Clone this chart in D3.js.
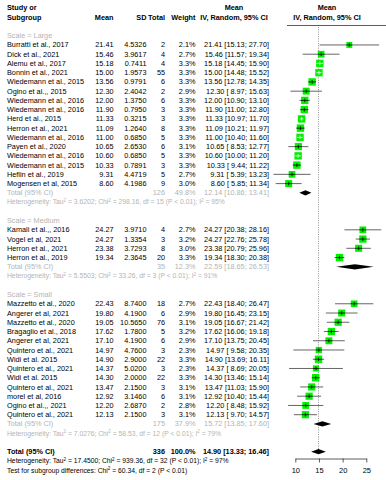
<!DOCTYPE html>
<html>
<head>
<meta charset="utf-8">
<script src="https://cdn.jsdelivr.net/npm/d3@7"></script>
<style>
  body { margin: 0; background: #fff; }
  svg { display: block; font-family: "Liberation Sans", Arial, sans-serif; }
</style>
</head>
<body>
<section></section>
<script>
// datos: [estudio, media, sd, total, peso %, IC inferior, IC superior]
var large = [
  ["Burratti et al., 2017", 21.41, 4.5326, 2, 2.1, 15.13, 27.70],
  ["Dick et al., 2021", 15.46, 3.9617, 4, 2.7, 11.57, 19.34],
  ["Alemu et al., 2017", 15.18, 0.7411, 4, 3.3, 14.45, 15.90],
  ["Bonnin et al., 2021", 15.00, 1.9573, 55, 3.3, 14.48, 15.52],
  ["Wiedemann et al., 2015", 13.56, 0.9791, 6, 3.3, 12.78, 14.35],
  ["Ogino et al.,, 2015", 12.30, 2.4042, 2, 2.9, 8.97, 15.63],
  ["Wiedemann et al., 2016", 12.00, 1.3750, 6, 3.3, 10.90, 13.10],
  ["Wiedemann et al., 2016", 11.90, 0.7950, 3, 3.3, 11.00, 12.80],
  ["Herd et al., 2015", 11.33, 0.3215, 3, 3.3, 10.97, 11.70],
  ["Herron et al., 2021", 11.09, 1.2640, 8, 3.3, 10.21, 11.97],
  ["Wiedemann et al., 2016", 11.00, 0.6850, 5, 3.3, 10.40, 11.60],
  ["Payen et al., 2020", 10.65, 2.6530, 6, 3.1, 8.53, 12.77],
  ["Wiedemann et al., 2016", 10.60, 0.6850, 5, 3.3, 10.00, 11.20],
  ["Wiedemann et al., 2015", 10.33, 0.7891, 3, 3.3, 9.44, 11.22],
  ["Heflin et al., 2019", 9.31, 4.4719, 5, 2.7, 5.39, 13.23],
  ["Mogensen et al, 2015", 8.60, 4.1986, 9, 3.0, 5.85, 11.34]
]
var medium = [
  ["Kamali et al.,, 2016", 24.27, 3.9710, 4, 2.7, 20.38, 28.16],
  ["Vogel et al, 2021", 24.27, 1.3354, 3, 3.2, 22.76, 25.78],
  ["Herron et al., 2021", 23.38, 3.7293, 8, 3.0, 20.79, 25.96],
  ["Herron et al., 2019", 19.34, 2.3645, 20, 3.3, 18.30, 20.38]
]
var small = [
  ["Mazzetto et al., 2020", 22.43, 8.7400, 18, 2.7, 18.40, 26.47],
  ["Angerer et al, 2021", 19.80, 4.1900, 6, 2.9, 16.45, 23.15],
  ["Mazzetto et al., 2020", 19.05, 10.5650, 76, 3.1, 16.67, 21.42],
  ["Bragaglio et al., 2018", 17.62, 1.7800, 5, 3.2, 16.06, 19.18],
  ["Angerer et al, 2021", 17.10, 4.1900, 6, 2.9, 13.75, 20.45],
  ["Quintero et al., 2021", 14.97, 4.7600, 3, 2.3, 9.58, 20.35],
  ["Widi et al. 2015", 14.90, 2.9000, 22, 3.3, 13.69, 16.11],
  ["Quintero et al., 2021", 14.37, 5.0200, 3, 2.3, 8.69, 20.05],
  ["Widi et al. 2015", 14.30, 2.0000, 22, 3.3, 13.46, 15.14],
  ["Quintero et al., 2021", 13.47, 2.1500, 3, 3.1, 11.03, 15.90],
  ["morel et al, 2016", 12.92, 3.1460, 6, 3.1, 10.40, 15.44],
  ["Ogino et al.,, 2021", 12.20, 2.6870, 2, 2.8, 8.48, 15.92],
  ["Quintero et al., 2021", 12.13, 2.1500, 3, 3.1, 9.70, 14.57]
]

// subgrupos: [etiqueta, total, peso, media, inf, sup]
var subgrupos = [
  ["Scale = Large", 126, 49.8, 12.14, 10.86, 13.41],
  ["Scale = Medium", 35, 12.3, 22.59, 18.65, 26.53],
  ["Scale = Small", 175, 37.9, 15.72, 13.85, 17.60]
]
// heterogeneidad: [tau2, chi2, df, I2]
var heterog = [
  ["3.6202", "298.16", 15, 95],
  ["5.5503", "33.26", 3, 91],
  ["7.0276", "58.53", 12, 79]
]
var global = [336, 100.0, 14.90, 13.33, 16.46]
var hetGlobal = ["17.4500", "939.36", 32, 97]
var testSub = ["60.34", 2]
var ticksX = [10, 15, 20, 25]

var width = 386
var height = 480

var svg = d3.select("section").append("svg")
  .attr("width", width)
  .attr("height", height)

var escalaX = d3.scaleLinear().domain([10, 25]).range([295.3, 366.3])
var escalaFila = d3.scaleLinear().domain([0, 41]).range([35.7, 414.7])

var fs = 7.3
var fsHet = 6.75
var gris = "#b4b4b4"
var verde = "#00f000"
var f2 = d3.format(".2f")

function ci(m, lo, hi) {
  var l = f2(lo), h = f2(hi)
  if (l.length < 5) l = "\u00a0" + l
  if (h.length < 5) h = "\u00a0" + h
  return f2(m) + " [" + l + "; " + h + "]"
}

function texto(x, y, t, anchor, color, weight, size) {
  return svg.append("text")
    .attr("x", x).attr("y", y).attr("dy", "0.35em")
    .attr("text-anchor", anchor || "start")
    .attr("fill", color || "#000")
    .attr("font-weight", weight || "normal")
    .attr("font-size", size || fs)
    .text(t)
}

// texto con superindices ("^2" marca el superindice)
function textoHet(x, y, partes, color) {
  var t = svg.append("text").attr("x", x).attr("y", y).attr("dy", "0.35em")
    .attr("fill", color).attr("font-size", fsHet)
  t.selectAll("tspan")
    .data(partes)
    .join("tspan")
    .attr("font-size", function (d) { return d === "^2" ? 4.6 : null })
    .attr("dy", function (d, i) {
      if (d === "^2") return -2.7
      if (i > 0 && partes[i - 1] === "^2") return 2.7
      return null
    })
    .text(function (d) { return d === "^2" ? "2" : d })
}

function hetPartes(h) {
  return ["Heterogeneity: Tau", "^2", " = " + h[0] + "; Chi", "^2",
    " = " + h[1] + ", df = " + h[2] + " (P < 0.01); I", "^2", " = " + h[3] + "%"]
}

var colX = {study: 7, mean: 113.5, sd: 146.5, total: 165, weight: 195.5, ci: 269}

// cabecera
texto(colX.study, 7.3, "Study or", "start", "#000", "bold")
texto(colX.study, 17.3, "Subgroup", "start", "#000", "bold")
texto(colX.mean, 17.3, "Mean", "end", "#000", "bold")
texto(colX.sd, 17.3, "SD", "end", "#000", "bold")
texto(colX.total, 17.3, "Total", "end", "#000", "bold")
texto(colX.weight, 17.3, "Weight", "end", "#000", "bold")
texto(234, 7.3, "Mean", "middle", "#000", "bold")
texto(234, 17.3, "IV, Random, 95% CI", "middle", "#000", "bold")
texto(327, 7.3, "Mean", "middle", "#000", "bold")
texto(327, 17.3, "IV, Random, 95% CI", "middle", "#000", "bold")

svg.append("line")
  .attr("x1", 287).attr("x2", 386).attr("y1", 25.5).attr("y2", 25.5)
  .attr("stroke", "#333").attr("stroke-width", 0.8)

// linea del efecto global
svg.append("line")
  .attr("x1", escalaX(global[2])).attr("x2", escalaX(global[2]))
  .attr("y1", 27).attr("y2", escalaFila(45) - 2)
  .attr("stroke", "#777").attr("stroke-width", 0.8)
  .attr("stroke-dasharray", "1,1.3")

function diamante(m, lo, hi, y) {
  svg.append("path")
    .attr("d", "M" + escalaX(lo) + "," + y + "L" + escalaX(m) + "," + (y - 2.6) +
      "L" + escalaX(hi) + "," + y + "L" + escalaX(m) + "," + (y + 2.6) + "Z")
    .attr("fill", "#000")
}

var grupos = [large, medium, small]
var fila = 0
grupos.forEach(function (g, gi) {
  var sg = subgrupos[gi]
  texto(colX.study, escalaFila(fila), sg[0], "start", gris)
  fila++
  g.forEach(function (d) {
    var y = escalaFila(fila)
    texto(colX.study, y, d[0])
    texto(colX.mean, y, f2(d[1]), "end")
    texto(colX.sd, y, d3.format(".4f")(d[2]), "end")
    texto(colX.total, y, d[3], "end")
    texto(colX.weight, y, d[4].toFixed(1) + "%", "end")
    texto(colX.ci, y, ci(d[1], d[5], d[6]), "end")

    var s = 7.4 * Math.sqrt(d[4] / 3.3)
    var xl = escalaX(d[5]), xh = escalaX(d[6]), xm = escalaX(d[1])
    svg.append("line").attr("x1", xl).attr("x2", xh).attr("y1", y).attr("y2", y)
      .attr("stroke", "#555").attr("stroke-width", 0.9)
    svg.append("rect").attr("x", xm - s / 2).attr("y", y - s / 2)
      .attr("width", s).attr("height", s).attr("fill", verde)
    var dentro = (xh - xl) < s
    var c = dentro ? "#fff" : "#000"
    svg.append("line")
      .attr("x1", Math.max(xl, xm - s / 2)).attr("x2", Math.min(xh, xm + s / 2))
      .attr("y1", y).attr("y2", y).attr("stroke", c).attr("stroke-width", 0.8)
    svg.append("line").attr("x1", xm).attr("x2", xm).attr("y1", y - 1.8).attr("y2", y + 1.8)
      .attr("stroke", c).attr("stroke-width", 0.8)
    fila++
  })
  var yT = escalaFila(fila)
  texto(colX.study, yT, "Total (95% CI)", "start", gris)
  texto(colX.total, yT, sg[1], "end", gris)
  texto(colX.weight, yT, sg[2].toFixed(1) + "%", "end", gris)
  texto(colX.ci, yT, ci(sg[3], sg[4], sg[5]), "end", gris)
  diamante(sg[3], sg[4], sg[5], yT)
  fila++
  textoHet(colX.study, escalaFila(fila), hetPartes(heterog[gi]), gris)
  fila += 2
})

// total global
var yG = escalaFila(fila)
texto(colX.study, yG, "Total (95% CI)", "start", "#000", "bold")
texto(colX.total, yG, global[0], "end", "#000", "bold")
texto(colX.weight, yG, global[1].toFixed(1) + "%", "end", "#000", "bold")
texto(colX.ci, yG, ci(global[2], global[3], global[4]), "end", "#000", "bold")
diamante(global[2], global[3], global[4], yG)
textoHet(colX.study, escalaFila(fila + 1), hetPartes(hetGlobal), "#000")
textoHet(colX.study, escalaFila(fila + 2), ["Test for subgroup differences: Chi", "^2",
  " = " + testSub[0] + ", df = " + testSub[1] + " (P < 0.01)"], "#000")

// eje X
var ejeX = d3.axisBottom(escalaX).tickValues(ticksX).tickSize(4).tickSizeOuter(0).tickPadding(5)
var gx = svg.append("g")
  .attr("transform", "translate(0,458.5)")
  .call(ejeX)
gx.selectAll("path, line").attr("stroke", "#333").attr("stroke-width", 0.8)
gx.selectAll("text").attr("font-size", 7.5).attr("fill", "#000")
  .attr("font-family", "Liberation Sans, Arial, sans-serif")
</script>
</body>
</html>
